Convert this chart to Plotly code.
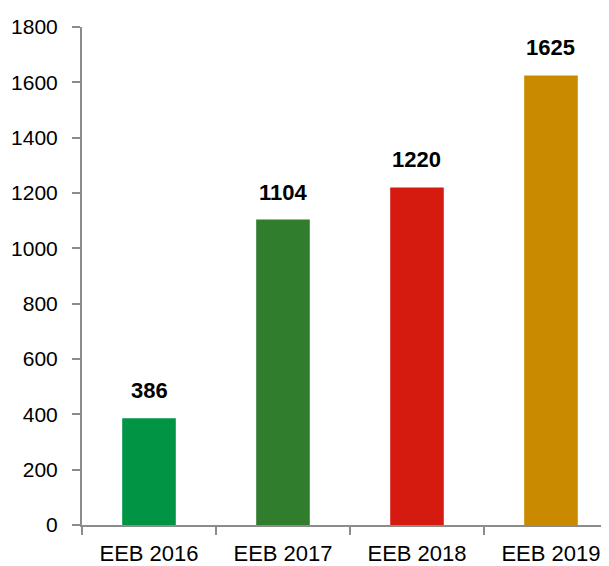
import plotly.graph_objects as go

categories = ["EEB 2016", "EEB 2017", "EEB 2018", "EEB 2019"]
values = [386, 1104, 1220, 1625]
bar_colors = ["#009444", "#317D2E", "#D51A10", "#C98A00"]

FONT = "Liberation Sans, Arial, sans-serif"
AXIS_GREY = "#8c8c8c"

fig = go.Figure()
fig.add_trace(go.Bar(
    x=categories,
    y=values,
    marker=dict(color=bar_colors, line=dict(width=0)),
    width=0.4,
    hoverinfo="x+y",
))

# value labels above the bars
for cat, val in zip(categories, values):
    fig.add_annotation(
        x=cat, y=val, text=f"<b>{val}</b>",
        showarrow=False, yanchor="bottom", yshift=13,
        font=dict(family=FONT, size=22, color="#000000"),
    )

# page body has an 8px margin, so the figure is a bit smaller than the window
fig.update_layout(
    width=601,
    height=558,
    margin=dict(l=74, r=0, t=19, b=41),
    paper_bgcolor="#ffffff",
    plot_bgcolor="#ffffff",
    showlegend=False,
    font=dict(family=FONT, size=21, color="#000000"),
)
fig.update_xaxes(
    range=[-0.5, 3.433],
    automargin=False,
    showline=True, linecolor=AXIS_GREY, linewidth=2,
    ticks="outside", tickson="boundaries", ticklen=8,
    tickcolor=AXIS_GREY, tickwidth=2,
    showgrid=False, zeroline=False,
    ticklabelstandoff=8,
    tickfont=dict(family=FONT, size=22, color="#000000"),
)
fig.update_yaxes(
    range=[0, 1800], dtick=200,
    automargin=False,
    showline=True, linecolor=AXIS_GREY, linewidth=2,
    ticks="outside", ticklen=8, tickcolor=AXIS_GREY, tickwidth=2,
    showgrid=False, zeroline=False,
    ticklabelstandoff=10,
    tickfont=dict(family=FONT, size=21, color="#000000"),
)

fig.write_html("out.html")
